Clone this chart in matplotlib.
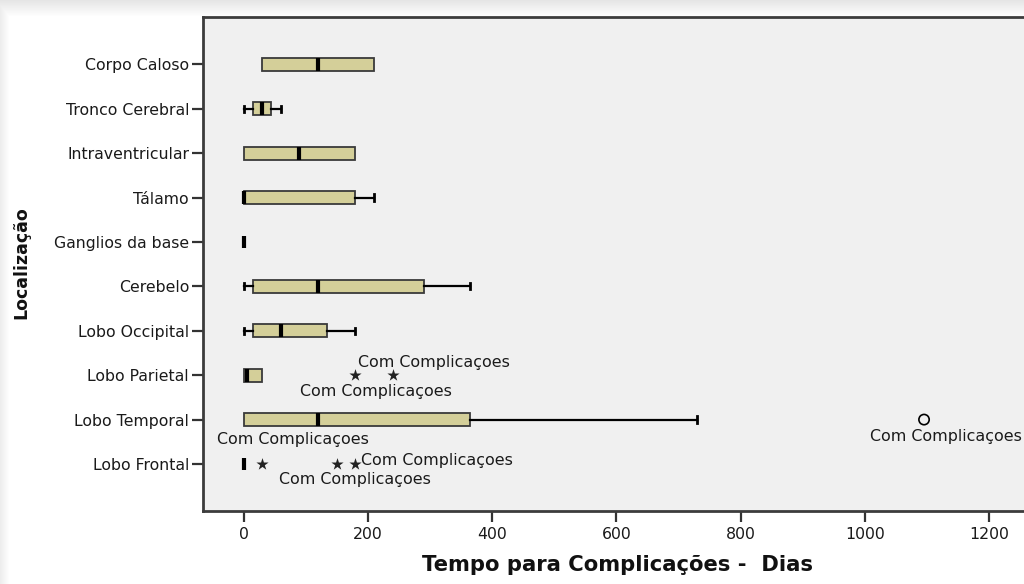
import numpy as np
import matplotlib
matplotlib.use("Agg")
import matplotlib.pyplot as plt

# --- data -----------------------------------------------------------------
categories = ["Corpo Caloso", "Tronco Cerebral", "Intraventricular", "Tálamo",
              "Ganglios da base", "Cerebelo", "Lobo Occipital", "Lobo Parietal",
              "Lobo Temporal", "Lobo Frontal"]
whisker_low = [30, 0, 0, 0, 0, 0, 0, 0, 0, 0]
quartile_1 = [30, 15, 0, 0, 0, 15, 15, 0, 0, 0]
medians = [120, 30, 90, 0, 0, 120, 60, 5, 120, 0]
quartile_3 = [210, 45, 180, 180, 0, 290, 135, 30, 365, 0]
whisker_high = [210, 60, 180, 210, 0, 365, 180, 30, 730, 0]

# outliers (circle) and extreme values (star): (category, days)
outliers = [("Lobo Temporal", 1095)]
extremes = [("Lobo Parietal", 180), ("Lobo Parietal", 240),
            ("Lobo Frontal", 30), ("Lobo Frontal", 150), ("Lobo Frontal", 180)]
case_label = "Com Complicaçoes"
x_ticks = [0, 200, 400, 600, 800, 1000, 1200]

x_label = "Tempo para Complicações -  Dias"
y_label = "Localização"

# --- figure ---------------------------------------------------------------
plt.rcParams["font.family"] = ["DejaVu Sans"]
W, H = 1024, 584
fig = plt.figure(figsize=(W / 100, H / 100), dpi=100)
fig.patch.set_facecolor("white")

# soft shading along the top and left edges of the canvas
bg = fig.add_axes([0, 0, 1, 1], zorder=-5)
yy, xx = np.mgrid[0:H, 0:W]
shade = np.maximum(np.clip(1 - yy / 16.0, 0, 1) * 0.10,
                   np.clip(1 - xx / 9.0, 0, 1) * 0.07)
img = np.ones((H, W, 3)) * (1 - shade)[..., None]
bg.imshow(img, extent=[0, 1, 0, 1], aspect="auto")
bg.set_axis_off()

left_px, right_px, top_px, bottom_px = 203, 1031, 17, 510.7
ax = fig.add_axes([left_px / W, 1 - bottom_px / H,
                   (right_px - left_px) / W, (bottom_px - top_px) / H])
ax.set_facecolor("#F0F0F0")

pos = {c: i for i, c in enumerate(categories)}
stats = []
for c, lo, a, m, b, hi in zip(categories, whisker_low, quartile_1, medians,
                              quartile_3, whisker_high):
    stats.append(dict(label=c, whislo=lo, q1=a, med=m, q3=b, whishi=hi,
                      fliers=[]))

box_color = "#D4CF99"
parts = ax.bxp(stats, positions=list(range(len(categories))),
               orientation="horizontal", widths=0.29, patch_artist=True,
               showfliers=False, capwidths=0.14,
               boxprops=dict(facecolor=box_color, edgecolor="#3a3a3a",
                             linewidth=1.3),
               medianprops=dict(color="black", linewidth=3.0,
                                solid_capstyle="butt"),
               whiskerprops=dict(color="black", linewidth=1.6),
               capprops=dict(color="black", linewidth=2.0))

# no whisker caps where the whisker coincides with the box edge
for i, s in enumerate(stats):
    if s["whislo"] == s["q1"]:
        parts["caps"][2 * i].set_visible(False)
    if s["whishi"] == s["q3"]:
        parts["caps"][2 * i + 1].set_visible(False)

# outliers and extremes
ax.scatter([v for _, v in outliers], [pos[c] for c, _ in outliers],
           marker="o", s=55, facecolors="none", edgecolors="black",
           linewidths=1.2, zorder=4)
ax.scatter([v for _, v in extremes], [pos[c] for c, _ in extremes],
           marker="*", s=85, color="#222222", linewidths=0, zorder=4)

# case labels next to the flagged points (offsets in pixels)
label_kw = dict(textcoords="offset pixels", fontsize=11.4, color="#1a1a1a",
                va="center", zorder=5)
ax.annotate(case_label, (240, pos["Lobo Parietal"]), xytext=(41, 13),
            ha="center", **label_kw)
ax.annotate(case_label, (180, pos["Lobo Parietal"]), xytext=(21, -16),
            ha="center", **label_kw)
ax.annotate(case_label, (30, pos["Lobo Frontal"]), xytext=(31, 24),
            ha="center", **label_kw)
ax.annotate(case_label, (1095, pos["Lobo Temporal"]), xytext=(22, -17),
            ha="center", **label_kw)
ax.annotate(case_label, (180, pos["Lobo Frontal"]), xytext=(6, 3),
            ha="left", **label_kw)
ax.annotate(case_label, (180, pos["Lobo Frontal"]), xytext=(0, -16),
            ha="center", **label_kw)

# axes, ticks and labels
ax.set_xlim(-65.2, (right_px - 243.5) / 0.6215)
ax.set_ylim(9 + (bottom_px - 464) / 44.4, -(64.3 - top_px) / 44.4)
ax.set_xticks(x_ticks)
ax.set_xticklabels([str(t) for t in x_ticks])
ax.set_yticks(range(len(categories)))
ax.set_yticklabels(categories)
ax.tick_params(axis="both", direction="out", length=8, width=1.6,
               color="#333333", labelsize=11.3, labelcolor="#1a1a1a", pad=2)
ax.tick_params(axis="x", pad=4)

for side in ["left", "bottom", "top"]:
    ax.spines[side].set_color("#3c3c3c")
    ax.spines[side].set_linewidth(2.0)
ax.spines["right"].set_visible(False)

ax.set_xlabel(x_label, fontsize=15.2, fontweight="bold", color="#111111",
              labelpad=9)
fig.text(21 / W, 1 - 263 / H, y_label, rotation=90, fontsize=12.5,
         fontweight="bold", color="#111111", ha="center", va="center")

fig.savefig("out.png", dpi=100)
